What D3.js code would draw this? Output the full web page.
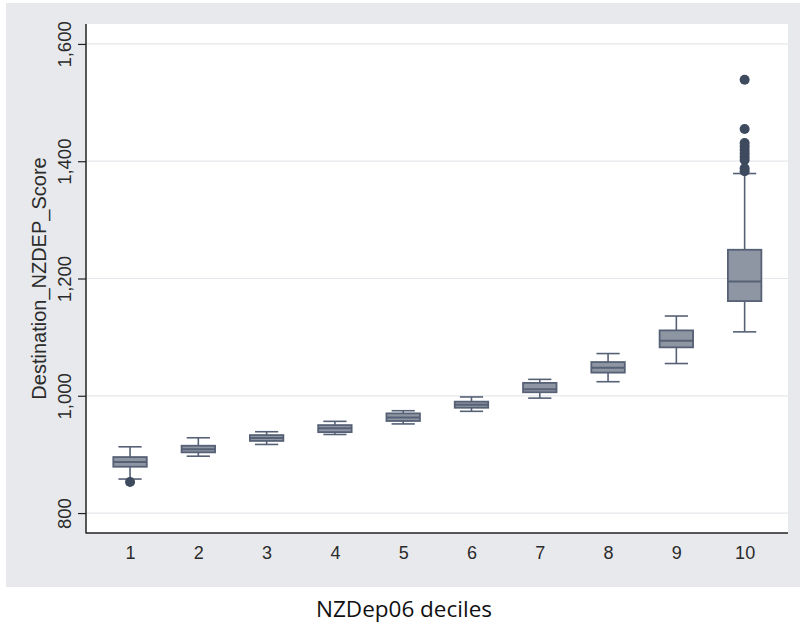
<!DOCTYPE html>
<html>
<head>
<meta charset="utf-8">
<script src="https://cdn.jsdelivr.net/npm/d3@7"></script>
<style>
  html, body { margin: 0; padding: 0; background: #ffffff; }
  svg { display: block; }
</style>
</head>
<body>
<svg id="chart" width="800" height="625"></svg>
<script>
// ---- Data ----
const deciles   = [1, 2, 3, 4, 5, 6, 7, 8, 9, 10];
const whiskLow  = [858, 897, 917, 934, 952, 973.5, 996, 1024, 1055, 1109];
const q1        = [879, 903.5, 923, 938, 957, 979.6, 1006, 1039.5, 1082.6, 1161.5];
const medians   = [887, 909, 928, 944.5, 963, 984.8, 1011, 1048, 1094, 1195];
const q3        = [895.5, 914.8, 933, 950, 970, 990, 1022, 1057.5, 1111.5, 1249];
const whiskHigh = [913, 928.4, 938.7, 956.4, 974.5, 998, 1028, 1072, 1136, 1379];
const outlierDecile = [1, 10, 10, 10, 10, 10, 10, 10, 10, 10, 10];
const outlierValue  = [853, 1539, 1455, 1431, 1425, 1419, 1413, 1407, 1402, 1388, 1383];
const yTicks = [800, 1000, 1200, 1400, 1600];
const xTitle = "NZDep06 deciles";
const yTitle = "Destination_NZDEP_Score";

// ---- Layout ----
const svg = d3.select("#chart");
const panel = { x: 6, y: 3, w: 794, h: 584 };
const plot = { left: 86, right: 788, top: 24, bottom: 533 };

svg.append("rect")
  .attr("x", panel.x).attr("y", panel.y)
  .attr("width", panel.w).attr("height", panel.h)
  .attr("fill", "#e8e9ec");

svg.append("rect")
  .attr("x", plot.left).attr("y", plot.top)
  .attr("width", plot.right - plot.left).attr("height", plot.bottom - plot.top)
  .attr("fill", "#ffffff");

const x = d3.scaleLinear().domain([0.355, 10.635]).range([plot.left, plot.right]);
const y = d3.scaleLinear().domain([766, 1634]).range([plot.bottom, plot.top]);

// gridlines
svg.append("g").selectAll("line").data(yTicks).join("line")
  .attr("x1", plot.left).attr("x2", plot.right)
  .attr("y1", d => y(d)).attr("y2", d => y(d))
  .attr("stroke", "#e4e7eb").attr("stroke-width", 1.2);

// y axis
const yAxis = d3.axisLeft(y).tickValues(yTicks).tickSize(8).tickSizeOuter(0)
  .tickFormat(d3.format(","));
const gy = svg.append("g").attr("transform", `translate(${plot.left},0)`).call(yAxis);
gy.select(".domain").remove();
gy.selectAll(".tick line").attr("stroke", "#222").attr("stroke-width", 1.2);
gy.selectAll(".tick text")
  .attr("x", 0).attr("y", 0).attr("dy", "0")
  .attr("transform", "translate(-15,0) rotate(-90)")
  .attr("text-anchor", "middle")
  .attr("font-family", "Liberation Sans, Arial, sans-serif")
  .attr("font-size", 18.5).attr("fill", "#2b2b2b");

// x axis
const xAxis = d3.axisBottom(x).tickValues(deciles).tickSize(0).tickPadding(0).tickFormat(d3.format("d"));
const gx = svg.append("g").attr("transform", `translate(0,${plot.bottom})`).call(xAxis);
gx.select(".domain").remove();
gx.selectAll(".tick text")
  .attr("y", 26).attr("dy", 0)
  .attr("font-family", "Liberation Sans, Arial, sans-serif")
  .attr("font-size", 18).attr("fill", "#2b2b2b");

// axis lines
svg.append("line")
  .attr("x1", plot.left).attr("x2", plot.left)
  .attr("y1", plot.top).attr("y2", plot.bottom + 0.5)
  .attr("stroke", "#222").attr("stroke-width", 1.5);
svg.append("line")
  .attr("x1", plot.left).attr("x2", plot.right)
  .attr("y1", plot.bottom).attr("y2", plot.bottom)
  .attr("stroke", "#222").attr("stroke-width", 1.5);

// boxes
const boxW = 0.49, capW = 0.34;
const stroke = "#566176", fill = "#8f96a3";
const rows = deciles.map((d, i) => ({ d, lo: whiskLow[i], q1: q1[i], med: medians[i], q3: q3[i], hi: whiskHigh[i] }));
const gb = svg.append("g");
const unit = x(1) - x(0);

// whiskers
gb.append("g").selectAll("line").data(rows).join("line")
  .attr("x1", r => x(r.d)).attr("x2", r => x(r.d))
  .attr("y1", r => y(r.lo)).attr("y2", r => y(r.q1))
  .attr("stroke", stroke).attr("stroke-width", 1.6);
gb.append("g").selectAll("line").data(rows).join("line")
  .attr("x1", r => x(r.d)).attr("x2", r => x(r.d))
  .attr("y1", r => y(r.hi)).attr("y2", r => y(r.q3))
  .attr("stroke", stroke).attr("stroke-width", 1.6);
// caps
["lo", "hi"].forEach(k => {
  gb.append("g").selectAll("line").data(rows).join("line")
    .attr("x1", r => x(r.d - capW / 2)).attr("x2", r => x(r.d + capW / 2))
    .attr("y1", r => y(r[k])).attr("y2", r => y(r[k]))
    .attr("stroke", stroke).attr("stroke-width", 1.6);
});
// box rects
gb.append("g").selectAll("rect").data(rows).join("rect")
  .attr("x", r => x(r.d - boxW / 2)).attr("width", boxW * unit)
  .attr("y", r => y(r.q3)).attr("height", r => y(r.q1) - y(r.q3))
  .attr("fill", fill).attr("stroke", stroke).attr("stroke-width", 1.8);
// medians
gb.append("g").selectAll("line").data(rows).join("line")
  .attr("x1", r => x(r.d - boxW / 2)).attr("x2", r => x(r.d + boxW / 2))
  .attr("y1", r => y(r.med)).attr("y2", r => y(r.med))
  .attr("stroke", stroke).attr("stroke-width", 2);

// outliers
svg.append("g").selectAll("circle").data(outlierValue.map((v, i) => ({ d: outlierDecile[i], v })))
  .join("circle")
  .attr("cx", o => x(o.d)).attr("cy", o => y(o.v)).attr("r", 5)
  .attr("fill", "#3e4a5e");

// titles
svg.append("text")
  .attr("transform", `translate(46, ${(plot.top + plot.bottom) / 2}) rotate(-90)`)
  .attr("text-anchor", "middle")
  .attr("font-family", "Liberation Sans, Arial, sans-serif")
  .attr("font-size", 20).attr("fill", "#2b2b2b")
  .text(yTitle);

svg.append("text")
  .attr("x", 404).attr("y", 617)
  .attr("text-anchor", "middle")
  .attr("font-family", "Open Sans, sans-serif")
  .attr("font-size", 22.5).attr("fill", "#111")
  .text(xTitle);
</script>
</body>
</html>
